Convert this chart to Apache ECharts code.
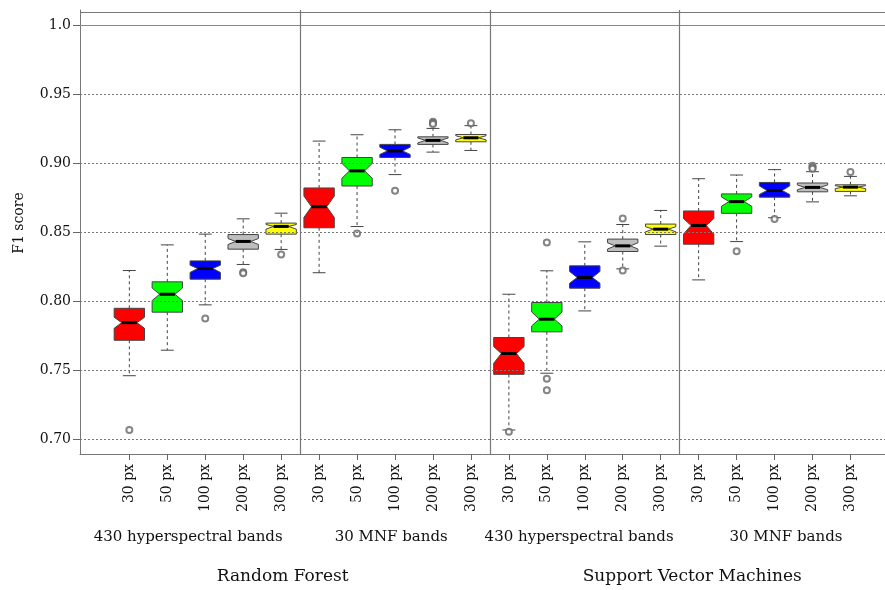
<!DOCTYPE html>
<html><head><meta charset="utf-8">
<script src="https://cdn.jsdelivr.net/npm/echarts@6/dist/echarts.min.js"></script>
<style>html,body{margin:0;padding:0;background:#fff}#c{width:885px;height:590px}</style>
</head><body><div id="c"></div>
<script>
// ---- data ----
const tickLabels = ['30 px','50 px','100 px','200 px','300 px','30 px','50 px','100 px','200 px','300 px',
                    '30 px','50 px','100 px','200 px','300 px','30 px','50 px','100 px','200 px','300 px'];
const groupLabels = ['430 hyperspectral bands','30 MNF bands','430 hyperspectral bands','30 MNF bands'];
const classifierLabels = ['Random Forest','Support Vector Machines'];
const yTicks = [0.70,0.75,0.80,0.85,0.90,0.95,1.0];

const whiskerLow  = [0.7461,0.7646,0.7975,0.8268,0.8377, 0.8208,0.8543,0.8920,0.9083,0.9095,
                     0.7067,0.7479,0.7931,0.8236,0.8401, 0.8156,0.8434,0.8607,0.8722,0.8766];
const q1          = [0.7718,0.7922,0.8161,0.8379,0.8488, 0.8534,0.8837,0.9044,0.9139,0.9158,
                     0.7471,0.7779,0.8096,0.8362,0.8485, 0.8415,0.8639,0.8756,0.8795,0.8798];
const median      = [0.7846,0.8052,0.8239,0.8435,0.8544, 0.8687,0.8947,0.9092,0.9168,0.9187,
                     0.7622,0.7871,0.8173,0.8403,0.8524, 0.8551,0.8724,0.8805,0.8827,0.8829];
const q3          = [0.7950,0.8142,0.8294,0.8485,0.8568, 0.8823,0.9044,0.9139,0.9194,0.9211,
                     0.7738,0.7992,0.8258,0.8452,0.8561, 0.8656,0.8780,0.8863,0.8859,0.8846];
const whiskerHigh = [0.8224,0.8410,0.8488,0.8599,0.8640, 0.9163,0.9209,0.9245,0.9255,0.9275,
                     0.8052,0.8222,0.8432,0.8558,0.8660, 0.8890,0.8917,0.8956,0.8941,0.8907];
const notchLow    = [0.7805,0.8006,0.8210,0.8413,0.8524, 0.8609,0.8893,0.9066,0.9150,0.9172,
                     0.7551,0.7822,0.8132,0.8380,0.8505, 0.8488,0.8690,0.8775,0.8810,0.8818];
const notchHigh   = [0.7885,0.8097,0.8263,0.8456,0.8558, 0.8764,0.9002,0.9119,0.9186,0.9202,
                     0.7672,0.7924,0.8217,0.8425,0.8542, 0.8602,0.8758,0.8838,0.8845,0.8840];
const outliers = [[1,0.7067],[3,0.7876],[4,0.8212],[4,0.8205],[5,0.8340],
                  [7,0.8492],[8,0.8803],[9,0.9304],[9,0.9295],[9,0.9287],[10,0.9292],
                  [11,0.7055],[12,0.8427],[12,0.7438],[12,0.7355],[14,0.8602],[14,0.8224],
                  [17,0.8363],[18,0.8597],[19,0.8985],[19,0.8972],[19,0.8962],[20,0.8939]];
const panelSeparators = [5.5,10.5,15.5];

// ---- styles ----
const FONT = 'DejaVu Serif';
const TEXT = '#111';
const Y_MIN = 0.6893, Y_MAX = 1.0114;
const boxColors = ['#ff0000','#00ff00','#0000ff','#bebebe','#ffff00'];
const positions = whiskerLow.map((_, i) => i + 1);
const boxData = positions.map((p, i) => [p, whiskerLow[i], q1[i], median[i], q3[i], whiskerHigh[i], notchLow[i], notchHigh[i], i % 5]);

function renderBox(params, api) {
  const x = api.value(0);
  const wl = api.value(1), lo = api.value(2), md = api.value(3), hi = api.value(4), wh = api.value(5);
  const nl = api.value(6), nh = api.value(7), ci = api.value(8);
  const half = api.size([0.4, 0])[0];
  const cap = api.size([0.17, 0])[0];
  const cx = api.coord([x, md])[0];
  const y = v => api.coord([x, v])[1];
  const pts = [
    [cx - half, y(lo)], [cx - half, y(nl)], [cx - half / 2, y(md)], [cx - half, y(nh)], [cx - half, y(hi)],
    [cx + half, y(hi)], [cx + half, y(nh)], [cx + half / 2, y(md)], [cx + half, y(nl)], [cx + half, y(lo)]
  ];
  const wStyle = { stroke: '#444', lineWidth: 1, lineDash: [3, 3] };
  const cStyle = { stroke: '#444', lineWidth: 1 };
  return { type: 'group', children: [
    { type: 'line', shape: { x1: cx, y1: y(hi), x2: cx, y2: y(wh) }, style: wStyle },
    { type: 'line', shape: { x1: cx, y1: y(lo), x2: cx, y2: y(wl) }, style: wStyle },
    { type: 'line', shape: { x1: cx - cap, y1: y(wh), x2: cx + cap, y2: y(wh) }, style: cStyle },
    { type: 'line', shape: { x1: cx - cap, y1: y(wl), x2: cx + cap, y2: y(wl) }, style: cStyle },
    { type: 'polygon', shape: { points: pts }, style: { fill: boxColors[ci], stroke: '#444', lineWidth: 1 } },
    { type: 'line', shape: { x1: cx - half / 2, y1: y(md), x2: cx + half / 2, y2: y(md) }, style: { stroke: '#000', lineWidth: 3 } }
  ]};
}

const gridLineData = yTicks.map(v => ({ yAxis: v, lineStyle: Math.abs(v - 1) < 1e-9
    ? { type: 'solid', color: '#888', width: 1 } : { type: [2, 2], color: '#777', width: 1 } }))
  .concat(panelSeparators.map(v => ({ xAxis: v, lineStyle: { type: 'solid', color: '#777', width: 1.2 } })))
  .concat([{ yAxis: Y_MAX, lineStyle: { type: 'solid', color: '#777', width: 1 } }]);

const chart = echarts.init(document.getElementById('c'), null, { renderer: 'canvas' });
chart.setOption({
  animation: false,
  backgroundColor: '#fff',
  grid: { left: 80, top: 10, right: 0, height: 444, show: false },
  xAxis: {
    type: 'value', min: -0.3, max: 20.91,
    axisLine: { show: true, onZero: false, lineStyle: { color: '#777', width: 1 } },
    splitLine: { show: false },
    axisTick: { show: true, customValues: positions, length: 6, lineStyle: { color: '#666' } },
    axisLabel: { customValues: positions, rotate: 90, margin: 10, fontFamily: FONT, fontSize: 14, color: TEXT,
      formatter: v => tickLabels[Math.round(v) - 1] || '' }
  },
  yAxis: {
    type: 'value', min: Y_MIN, max: Y_MAX,
    axisLine: { show: true, onZero: false, lineStyle: { color: '#777', width: 1 } },
    splitLine: { show: false },
    axisTick: { show: true, customValues: yTicks, length: 7, lineStyle: { color: '#666' } },
    axisLabel: { customValues: yTicks, margin: 9, fontFamily: FONT, fontSize: 14, color: TEXT,
      formatter: v => Math.abs(v - 1) < 1e-9 ? '1.0' : v.toFixed(2) }
  },
  series: [
    { type: 'line', data: [], z: 1, silent: true,
      markLine: { silent: true, symbol: ['none', 'none'], label: { show: false }, data: gridLineData } },
    { type: 'custom', z: 3, renderItem: renderBox, data: boxData, encode: { x: 0, y: [1, 2, 3, 4, 5] } },
    { type: 'scatter', z: 4, data: outliers, symbol: 'emptyCircle', symbolSize: 6,
      itemStyle: { color: '#666', borderColor: '#666', borderWidth: 1 } }
  ]
});

const px = v => chart.convertToPixel({ gridIndex: 0 }, [v, 0.8])[0];
const groupX = [2.55, 7.9, 12.85, 18.3];
const classX = [5.04, 15.83];
const texts = [];
groupLabels.forEach((t, i) => texts.push({ type: 'text', x: px(groupX[i]), y: 537,
  style: { text: t, fontFamily: FONT, fontSize: 15, fill: TEXT, align: 'center', verticalAlign: 'middle' } }));
classifierLabels.forEach((t, i) => texts.push({ type: 'text', x: px(classX[i]), y: 577,
  style: { text: t, fontFamily: FONT, fontSize: 17, fill: TEXT, align: 'center', verticalAlign: 'middle' } }));
texts.push({ type: 'text', x: 19, y: 223, rotation: Math.PI / 2,
  style: { text: 'F1 score', fontFamily: FONT, fontSize: 14, fill: TEXT, align: 'center', verticalAlign: 'middle' } });
chart.setOption({ graphic: texts });
</script>
</body></html>
